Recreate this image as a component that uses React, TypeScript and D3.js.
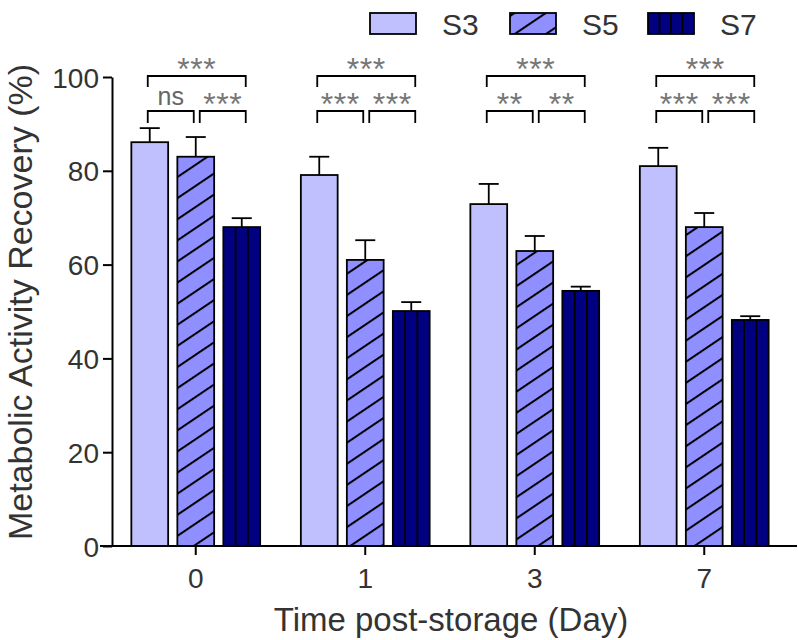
import * as d3 from "d3";
import React, { useEffect, useRef } from "react";

// data
const days = ["0", "1", "3", "7"];
const series = ["S3", "S5", "S7"];
const meanS3 = [86.1, 79.1, 72.9, 81.0];
const meanS5 = [83.0, 61.0, 62.9, 68.0];
const meanS7 = [68.0, 50.1, 54.4, 48.2];
const errS3 = [3.0, 3.9, 4.3, 3.9];
const errS5 = [4.2, 4.2, 3.2, 3.0];
const errS7 = [1.9, 1.9, 0.9, 0.8];
const sigTop = ["***", "***", "***", "***"];
const sigLeft = ["ns", "***", "**", "***"];
const sigRight = ["***", "***", "**", "***"];
const yTicks = [0, 20, 40, 60, 80, 100];

const FONT = "'Liberation Sans', Arial, sans-serif";
const fills = { S3: "#c0c0ff", S5: "#8f8fff", S7: "#000080" };

function App() {
  const ref = useRef(null);

  useEffect(() => {
    const svg = d3.select(ref.current);
    svg.selectAll("*").remove();

    const width = 798, height = 640;
    svg.attr("width", width).attr("height", height);

    const y = d3.scaleLinear().domain([0, 100]).range([546, 77]);
    const x0 = d3.scaleBand().domain(days).range([111, 789]).padding(0);
    const x1 = d3.scaleBand().domain(series).range([-64.4, 64.4]).paddingInner(0.2);
    const bw = x1.bandwidth();

    const means = { S3: meanS3, S5: meanS5, S7: meanS7 };
    const errs = { S3: errS3, S5: errS5, S7: errS7 };

    // hatch pattern for S5
    const defs = svg.append("defs");
    defs
      .append("pattern")
      .attr("id", "hatch")
      .attr("patternUnits", "userSpaceOnUse")
      .attr("width", 20)
      .attr("height", 17.5)
      .attr("patternTransform", "rotate(-34)")
      .call((p) => {
        p.append("rect").attr("width", 20).attr("height", 17.5).attr("fill", fills.S5);
        p.append("line")
          .attr("x1", 0).attr("x2", 20)
          .attr("y1", 1).attr("y2", 1)
          .attr("stroke", "#000").attr("stroke-width", 2);
      });

    const fillOf = (s) => (s === "S5" ? "url(#hatch)" : fills[s]);

    // bars
    const rows = [];
    days.forEach((d, i) =>
      series.forEach((s) =>
        rows.push({ d, s, v: means[s][i], e: errs[s][i] })
      )
    );

    const g = svg.append("g");
    rows.forEach((r) => {
      const bx = x0(r.d) + x0.bandwidth() / 2 + x1(r.s);
      const cx = bx + bw / 2;
      // error bar (upper only)
      g.append("line")
        .attr("x1", cx).attr("x2", cx)
        .attr("y1", y(r.v)).attr("y2", y(r.v + r.e))
        .attr("stroke", "#000").attr("stroke-width", 1.8);
      g.append("line")
        .attr("x1", cx - 10).attr("x2", cx + 10)
        .attr("y1", y(r.v + r.e)).attr("y2", y(r.v + r.e))
        .attr("stroke", "#000").attr("stroke-width", 1.8);

      g.append("rect")
        .attr("x", bx)
        .attr("y", y(r.v))
        .attr("width", bw)
        .attr("height", y(0) - y(r.v))
        .attr("fill", fillOf(r.s))
        .attr("stroke", "#000")
        .attr("stroke-width", 1.8);

      if (r.s === "S7") {
        [1, 2].forEach((k) =>
          g.append("line")
            .attr("x1", bx + (bw * k) / 3).attr("x2", bx + (bw * k) / 3)
            .attr("y1", y(r.v)).attr("y2", y(0))
            .attr("stroke", "#000").attr("stroke-width", 1.8)
        );
      }
    });

    // y axis
    const yAxis = svg
      .append("g")
      .attr("transform", "translate(112,0)")
      .call(d3.axisLeft(y).tickValues(yTicks).tickSize(9).tickSizeOuter(0).tickPadding(4));
    yAxis.select(".domain").attr("stroke", "#000").attr("stroke-width", 2);
    yAxis.selectAll(".tick line").attr("stroke", "#000").attr("stroke-width", 2);
    yAxis
      .selectAll(".tick text")
      .attr("font-family", FONT)
      .attr("font-size", 28)
      .attr("fill", "#333")
      .attr("dy", "0.36em");

    // x axis
    svg
      .append("line")
      .attr("x1", 100).attr("x2", 797)
      .attr("y1", 546).attr("y2", 546)
      .attr("stroke", "#000").attr("stroke-width", 2);
    const xAxis = svg
      .append("g")
      .attr("transform", "translate(0,546)")
      .call(d3.axisBottom(x0).tickSize(9).tickSizeOuter(0).tickPadding(13));
    xAxis.select(".domain").remove();
    xAxis.selectAll(".tick line").attr("stroke", "#000").attr("stroke-width", 2);
    xAxis
      .selectAll(".tick text")
      .attr("font-family", FONT)
      .attr("font-size", 28)
      .attr("fill", "#333");

    // axis titles
    svg
      .append("text")
      .attr("transform", "translate(32,302) rotate(-90)")
      .attr("text-anchor", "middle")
      .attr("font-family", FONT)
      .attr("font-size", 34)
      .attr("fill", "#333")
      .text("Metabolic Activity Recovery (%)");
    svg
      .append("text")
      .attr("x", 451)
      .attr("y", 631)
      .attr("text-anchor", "middle")
      .attr("font-family", FONT)
      .attr("font-size", 33)
      .attr("fill", "#333")
      .text("Time post-storage (Day)");

    // significance brackets
    const centre = (d, s) => x0(d) + x0.bandwidth() / 2 + x1(s) + bw / 2;
    const bracket = (xa, xb, yTop, yEnd, label) => {
      svg
        .append("path")
        .attr("d", `M${xa},${yEnd}V${yTop}H${xb}V${yEnd}`)
        .attr("fill", "none")
        .attr("stroke", "#000")
        .attr("stroke-width", 1.8);
      const isStar = label.startsWith("*");
      svg
        .append("text")
        .attr("x", (xa + xb) / 2)
        .attr("y", isStar ? yTop + 4 : yTop - 6)
        .attr("text-anchor", "middle")
        .attr("font-family", FONT)
        .attr("font-size", isStar ? 32 : 25)
        .attr("letter-spacing", isStar ? 0.6 : 0)
        .attr("fill", isStar ? "#777" : "#666")
        .text(label);
    };
    days.forEach((d, i) => {
      const a = centre(d, "S3") - 2;
      const m = centre(d, "S5");
      const b = centre(d, "S7") + 4;
      bracket(a, b, 76, 87, sigTop[i]);
      bracket(a, m - 2, 111, 123, sigLeft[i]);
      bracket(m + 4, b, 111, 123, sigRight[i]);
    });

    // legend
    const legX = { S3: 370, S5: 510, S7: 648 };
    series.forEach((s) => {
      const lx = legX[s];
      svg
        .append("rect")
        .attr("x", lx).attr("y", 13)
        .attr("width", 46).attr("height", 21)
        .attr("fill", fillOf(s))
        .attr("stroke", "#000").attr("stroke-width", 1.8);
      if (s === "S7") {
        [1, 2, 3].forEach((k) =>
          svg.append("line")
            .attr("x1", lx + (46 * k) / 4).attr("x2", lx + (46 * k) / 4)
            .attr("y1", 13).attr("y2", 34)
            .attr("stroke", "#000").attr("stroke-width", 1.8)
        );
      }
      svg
        .append("text")
        .attr("x", lx + 72)
        .attr("y", 35)
        .attr("font-family", FONT)
        .attr("font-size", 30)
        .attr("fill", "#333")
        .text(s);
    });
  }, []);

  return (
    <div className="chart" style={{ position: "absolute", left: 0, top: 0 }}>
      <svg ref={ref} style={{ display: "block" }}></svg>
    </div>
  );
}

export default App;
